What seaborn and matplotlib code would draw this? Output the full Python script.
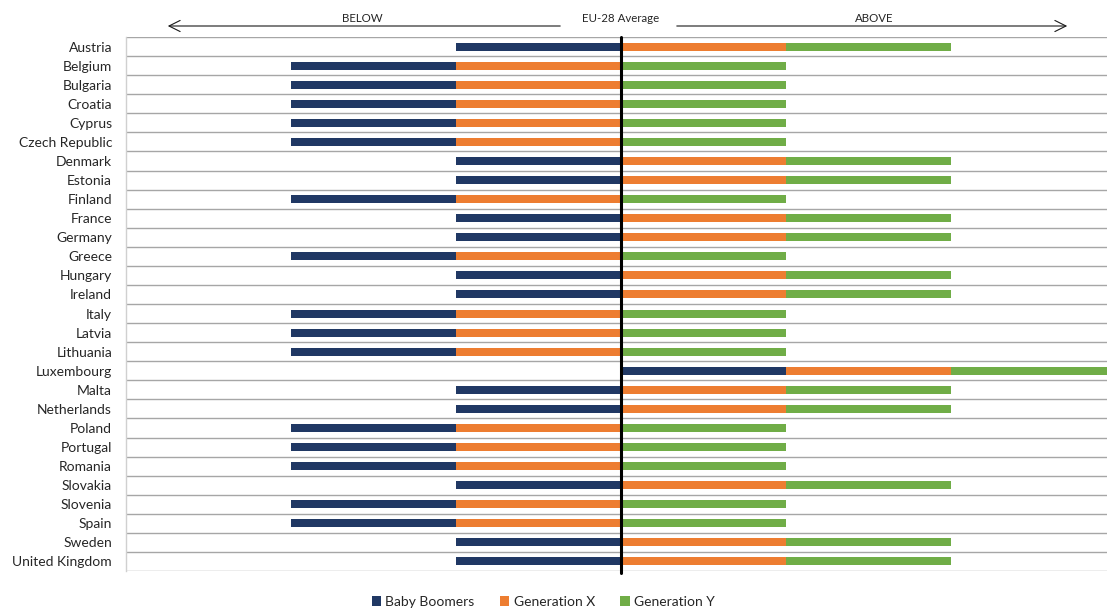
import matplotlib
matplotlib.use("Agg")
import numpy as np
import pandas as pd
import seaborn as sns
import matplotlib.pyplot as plt
from matplotlib.patches import Patch

countries = [
    "Austria", "Belgium", "Bulgaria", "Croatia", "Cyprus", "Czech Republic",
    "Denmark", "Estonia", "Finland", "France", "Germany", "Greece", "Hungary",
    "Ireland", "Italy", "Latvia", "Lithuania", "Luxembourg", "Malta",
    "Netherlands", "Poland", "Portugal", "Romania", "Slovakia", "Slovenia",
    "Spain", "Sweden", "United Kingdom",
]

# -1 = below the EU-28 average, 1 = above
baby_boomers = [-1, -1, -1, -1, -1, -1, -1, -1, -1, -1, -1, -1, -1, -1,
                -1, -1, -1, 1, -1, -1, -1, -1, -1, -1, -1, -1, -1, -1]
generation_x = [1, -1, -1, -1, -1, -1, 1, 1, -1, 1, 1, -1, 1, 1,
                -1, -1, -1, 1, 1, 1, -1, -1, -1, 1, -1, -1, 1, 1]
generation_y = [1, 1, 1, 1, 1, 1, 1, 1, 1, 1, 1, 1, 1, 1,
                1, 1, 1, 1, 1, 1, 1, 1, 1, 1, 1, 1, 1, 1]

series = ["Baby Boomers", "Generation X", "Generation Y"]
colors = ["#203864", "#ED7D31", "#70AD47"]

# segments run left to right starting at minus the number of "below" groups
rows = []
for i, country in enumerate(countries):
    trio = [baby_boomers[i], generation_x[i], generation_y[i]]
    start = -sum(v < 0 for v in trio)
    for j, name in enumerate(series):
        rows.append({"country": country, "series": name,
                     "left": start + j, "width": abs(trio[j])})
df = pd.DataFrame(rows)

sns.set_theme(style="white")
plt.rcParams["font.family"] = ["Lato", "DejaVu Sans"]

fig = plt.figure(figsize=(11.07, 6.10), dpi=100)
ax = fig.add_axes([0.1138, 0.0639, 0.8862, 0.8754])

for name, col in zip(series, colors):
    sub = df[df["series"] == name]
    sns.barplot(
        data=sub, x="width", y="country", order=countries, orient="h",
        color=col, width=0.42, errorbar=None, ax=ax,
        left=sub["left"].to_numpy(), saturation=1, linewidth=0,
    )

ax.set_xlim(-3, 2.945)
ax.set_ylim(len(countries) - 0.5, -0.5)

# row separators
ax.hlines(np.arange(-0.5, len(countries)), -3, 2.945, color="#A6A6A6",
          lw=1, zorder=0)
ax.axvline(0, color="black", lw=2.2, ymin=-0.003, ymax=1, clip_on=False)

for s in ["top", "right", "bottom"]:
    ax.spines[s].set_visible(False)
ax.spines["left"].set_color("#D0D0D0")
ax.spines["left"].set_linewidth(1)

ax.set_xticks([])
ax.set_xlabel("")
ax.set_ylabel("")
ax.tick_params(axis="y", length=0, pad=10, labelsize=10, labelcolor="#262626")

# header arrows and labels
arr = dict(arrowstyle="->", color="#1A1A1A", lw=0.8, mutation_scale=20)
fig.text(621 / 1107, 1 - 19 / 610, "EU-28 Average", ha="center", va="center",
         fontsize=8.3, color="#262626")
ax.annotate("", xy=(165 / 1107, 1 - 26 / 610), xytext=(563 / 1107, 1 - 26 / 610),
            xycoords="figure fraction", textcoords="figure fraction",
            arrowprops=arr)
ax.annotate("", xy=(1070 / 1107, 1 - 26 / 610), xytext=(674 / 1107, 1 - 26 / 610),
            xycoords="figure fraction", textcoords="figure fraction",
            arrowprops=arr)
fig.text(362 / 1107, 1 - 18 / 610, "BELOW", ha="center", va="center",
         fontsize=8.3, color="#262626")
fig.text(874 / 1107, 1 - 18 / 610, "ABOVE", ha="center", va="center",
         fontsize=8.3, color="#262626")

handles = [Patch(facecolor=c, edgecolor="none", label=n)
           for n, c in zip(series, colors)]
fig.legend(handles=handles, loc="center", bbox_to_anchor=(543 / 1107, 1 - 602 / 610),
           ncol=3, frameon=False, fontsize=10, handlelength=0.7, handleheight=0.7,
           handletextpad=0.3, columnspacing=1.8)

fig.savefig("out.png", dpi=100)
